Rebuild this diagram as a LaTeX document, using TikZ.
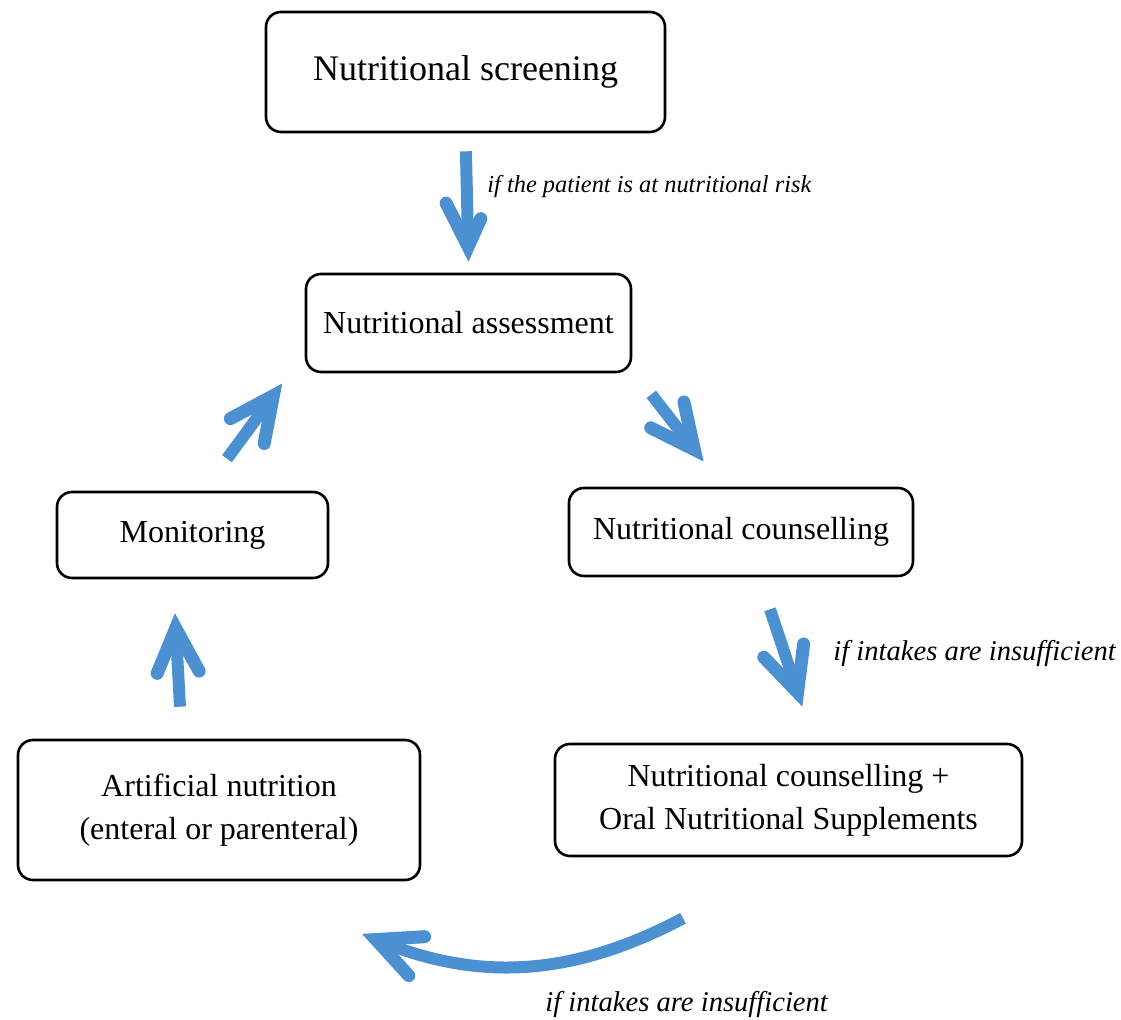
\documentclass[tikz,border=0pt]{standalone}
\usepackage{fontspec}
\setmainfont{Liberation Serif}
\usetikzlibrary{arrows.meta, positioning, decorations.markings}
\definecolor{flowblue}{RGB}{75,145,210}

\begin{document}
\begin{tikzpicture}[
        x=0.5pt, y=-0.5pt,
        font=\fontsize{16}{21.5}\selectfont,
        box/.style={draw, rectangle, rounded corners=7.5pt, line width=1.3pt, align=center, inner sep=0pt},
        flow/.style={draw=flowblue, line width=6pt, shorten >=9pt,
            postaction={decorate},
            decoration={markings, mark=at position 1 with {
                \draw[flowblue, line width=6.5pt, line cap=round, line join=miter, shorten >=0pt]
                    (-29pt,10.5pt) -- (-7pt,0pt) -- (-29pt,-10.5pt);}}},
        lab/.style={font=\fontsize{14.3}{17}\selectfont\itshape, anchor=west, inner sep=0pt},
    ]
    \useasboundingbox (0,0) rectangle (1121,1020);

    % Nodes
    \node[box, minimum width=199.5pt, minimum height=60pt, font=\fontsize{18}{22}\selectfont] (screen) at (465.5,72) {Nutritional screening};
    \node[box, minimum width=162.5pt, minimum height=49pt] (assess) at (468.5,323) {Nutritional assessment};
    \node[box, minimum width=172pt, minimum height=44pt] (counsel) at (741,532) {Nutritional counselling};
    \node[box, minimum width=135.5pt, minimum height=43pt] (monit) at (192.5,535) {Monitoring};
    \node[box, minimum width=233.5pt, minimum height=56pt] (ons) at (788.5,800) {Nutritional counselling +\\ Oral Nutritional Supplements};
    \node[box, minimum width=201pt, minimum height=70pt] (artif) at (219,810) {Artificial nutrition\\ (enteral or parenteral)};

    % Labels
    \node[lab, font=\fontsize{12.2}{15}\selectfont\itshape] (risk) at ([shift={(21.5,53)}]screen.south) {if the patient is at nutritional risk};
    \node[lab] (insuf1) at ([shift={(92,76)}]counsel.south) {if intakes are insufficient};
    \node[lab] (insuf2) at ([shift={(-243.5,147)}]ons.south) {if intakes are insufficient};

    % Edges
    \draw[flow, shorten <=9pt] (screen.south) -- ([yshift=6pt]assess.north);
    \draw[flow] ([shift={(19,21)}]assess.south east) -- ([shift={(-38,-26)}]counsel.north);
    \draw[flow] ([shift={(29,32)}]counsel.south) -- ([shift={(13.5,-37)}]ons.north);
    \draw[flow] ([shift={(-105.5,61)}]ons.south) to[bend left=25] ([shift={(144,53)}]artif.south);
    \draw[flow] ([shift={(-39,-32)}]artif.north) -- ([shift={(-17.5,35)}]monit.south);
    \draw[flow] ([shift={(34.5,-32)}]monit.north) -- ([shift={(-23,11)}]assess.south west);

\end{tikzpicture}
\end{document}
